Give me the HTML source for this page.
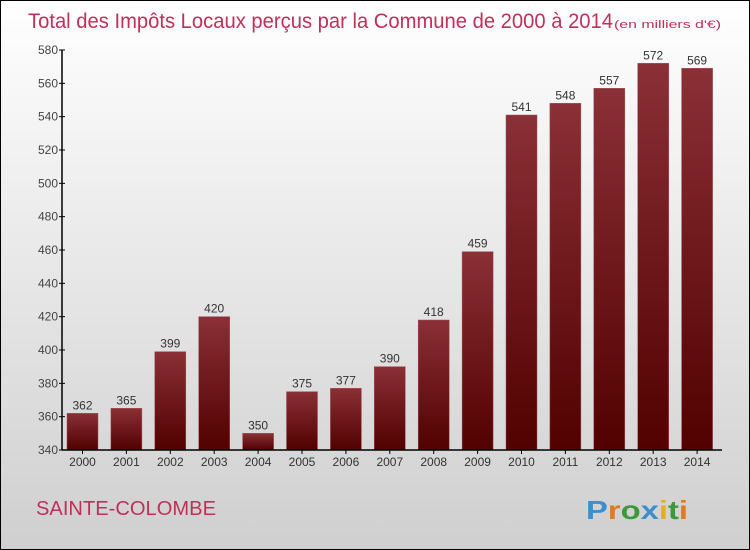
<!DOCTYPE html>
<html><head><meta charset="utf-8"><style>
body{margin:0}
#c{position:relative;width:748px;height:548px;border:1px solid #000;background:linear-gradient(#fff,#cfcfcf);overflow:hidden;font-family:"Liberation Sans",sans-serif}
</style></head><body>
<div id="c">
<svg id="s" width="748" height="548" style="position:absolute;left:0;top:0">
<defs><linearGradient id="g" x1="0" y1="0" x2="0" y2="1"><stop offset="0" stop-color="#8a3036"/><stop offset="1" stop-color="#520000"/></linearGradient></defs>
<text x="27" y="27" font-size="21" fill="#c0305a" textLength="585" lengthAdjust="spacingAndGlyphs">Total des Impôts Locaux perçus par la Commune de 2000 à 2014</text>
<text x="613" y="27" font-size="11" fill="#c0305a" textLength="107" lengthAdjust="spacingAndGlyphs">(en milliers d'€)</text>
<text x="35" y="514" font-size="20" fill="#c0305a" textLength="180" lengthAdjust="spacingAndGlyphs">SAINTE-COLOMBE</text>
<text x="585" y="518" font-size="26" font-weight="bold" textLength="102" lengthAdjust="spacingAndGlyphs"><tspan fill="#3a8fd0">P</tspan><tspan fill="#e07a20">r</tspan><tspan fill="#3a9a3a">o</tspan><tspan fill="#3a8fd0">x</tspan><tspan fill="#e0b020">i</tspan><tspan fill="#3a9a3a">t</tspan><tspan fill="#e07a20">i</tspan></text>
</svg>
</div>
<script>
const years=["2000","2001","2002","2003","2004","2005","2006","2007","2008","2009","2010","2011","2012","2013","2014"];
const values=[362,365,399,420,350,375,377,390,418,459,541,548,557,572,569];
const yTicks=[340,360,380,400,420,440,460,480,500,520,540,560,580];
const s=document.getElementById('s'),NS='http://www.w3.org/2000/svg';
const x0=61,step=43.9,yMin=340,yMax=580,py0=449,py1=49;
const y=v=>py0-(v-yMin)/(yMax-yMin)*(py0-py1);
const xb=i=>x0+5+i*step;
function mk(t,a){const e=document.createElementNS(NS,t);for(const k in a)e.setAttribute(k,a[k]);s.appendChild(e);return e;}
yTicks.forEach(v=>{
const l=mk('line',{x1:x0-3,x2:x0+3,y1:y(v),y2:y(v),stroke:'#000'});


const t=mk('text',{x:x0-4,y:y(v)+4,'text-anchor':'end','font-size':12,fill:'#444'});t.textContent=v;


});
values.forEach((v,i)=>{
const r=mk('rect',{x:xb(i),y:y(v),width:31,height:py0-y(v),fill:'url(#g)',stroke:'#a05058','stroke-width':0.5});


const t=mk('text',{x:xb(i)+15.5,y:y(v)-4,'text-anchor':'middle','font-size':12,fill:'#333'});t.textContent=v;


const k=mk('line',{x1:xb(i)+15.5,x2:xb(i)+15.5,y1:py0,y2:py0+4,stroke:'#000'});


const yl=mk('text',{x:xb(i)+15.5,y:py0+16,'text-anchor':'middle','font-size':12,fill:'#333'});yl.textContent=years[i];


});
const ya=mk('line',{x1:x0,x2:x0,y1:py1,y2:py0,stroke:'#000','stroke-width':1.5});


const xa=mk('line',{x1:x0,x2:x0+660,y1:py0,y2:py0,stroke:'#000','stroke-width':1.5});


</script>
</body></html>
